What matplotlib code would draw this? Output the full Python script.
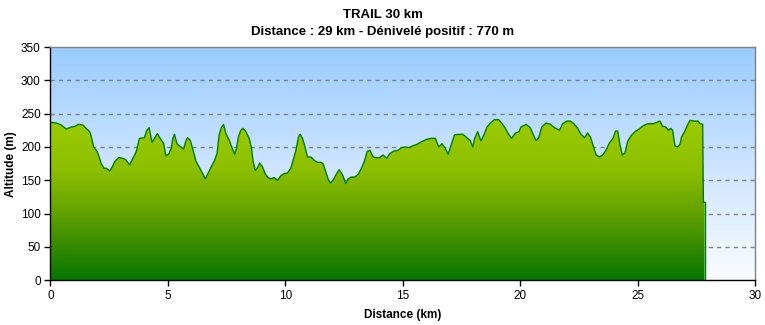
import numpy as np
import matplotlib
matplotlib.use("Agg")
import matplotlib.pyplot as plt
from matplotlib.colors import LinearSegmentedColormap
from matplotlib.patches import Polygon
from matplotlib import font_manager

names = {f.name for f in font_manager.fontManager.ttflist}
fam = "Liberation Sans Narrow" if "Liberation Sans Narrow" in names else "Liberation Sans"
plt.rcParams["font.family"] = [fam, "DejaVu Sans"]

title = "TRAIL 30 km"
subtitle = "Distance : 29 km - Dénivelé positif : 770 m"
xlabel = "Distance (km)"
ylabel = "Altitude (m)"
xticks = [0, 5, 10, 15, 20, 25, 30]
yticks = [0, 50, 100, 150, 200, 250, 300, 350]

distance = [0, 0.25, 0.46, 0.67, 0.89, 1.03, 1.2, 1.38, 1.52, 1.67, 1.74, 1.84, 1.99, 2.09,
            2.16, 2.28, 2.38, 2.52, 2.63, 2.73, 2.9, 3.09, 3.23, 3.37, 3.51, 3.65, 3.79, 4.0,
            4.1, 4.2, 4.32, 4.43, 4.55, 4.67, 4.82, 4.91, 5.03, 5.14, 5.21, 5.28, 5.38, 5.52,
            5.67, 5.77, 5.84, 5.95, 6.05, 6.19, 6.33, 6.48, 6.59, 6.7, 6.84, 6.99, 7.09, 7.18,
            7.27, 7.37, 7.47, 7.61, 7.72, 7.84, 7.92, 8.0, 8.1, 8.2, 8.32, 8.46, 8.56, 8.63,
            8.72, 8.8, 8.91, 9.03, 9.14, 9.26, 9.38, 9.52, 9.67, 9.81, 9.95, 10.09, 10.23,
            10.33, 10.45, 10.56, 10.63, 10.73, 10.84, 10.94, 11.09, 11.23, 11.37, 11.51, 11.61,
            11.72, 11.84, 11.92, 12.03, 12.15, 12.29, 12.44, 12.57, 12.67, 12.82, 12.96, 13.1,
            13.24, 13.38, 13.48, 13.6, 13.74, 13.88, 14.02, 14.16, 14.31, 14.45, 14.62, 14.8,
            14.94, 15.13, 15.27, 15.44, 15.61, 15.8, 15.98, 16.2, 16.39, 16.53, 16.67, 16.81,
            16.93, 17.06, 17.2, 17.38, 17.56, 17.73, 17.88, 17.98, 18.06, 18.19, 18.33, 18.45,
            18.59, 18.73, 18.9, 19.09, 19.23, 19.37, 19.51, 19.63, 19.8, 19.95, 20.03, 20.25,
            20.43, 20.56, 20.67, 20.78, 20.92, 21.1, 21.29, 21.46, 21.67, 21.81, 21.99, 22.14,
            22.28, 22.45, 22.59, 22.74, 22.87, 22.99, 23.1, 23.23, 23.37, 23.51, 23.65, 23.8,
            23.95, 24.06, 24.15, 24.25, 24.35, 24.46, 24.57, 24.72, 24.89, 25.06, 25.24, 25.43,
            25.67, 25.81, 25.95, 26.06, 26.2, 26.31, 26.42, 26.49, 26.59, 26.7, 26.8, 26.87,
            27.01, 27.12, 27.23, 27.41, 27.57, 27.66, 27.77, 27.8, 27.85]
altitude = [237, 236, 233, 227, 230, 231, 234, 233, 228, 223, 215, 200, 193, 183,
            175, 168, 168, 164, 170, 178, 184, 183, 180, 173, 183, 193, 213, 214,
            225, 229, 207, 213, 220, 213, 205, 187, 189, 198, 213, 219, 205, 201,
            197, 210, 214, 210, 198, 179, 170, 160, 152, 160, 170, 180, 190, 218,
            229, 234, 220, 210, 200, 189, 198, 215, 225, 228, 223, 213, 198, 178,
            165, 168, 176, 170, 160, 154, 152, 154, 150, 157, 160, 161, 168,
            180, 195, 215, 219, 213, 200, 185, 185, 180, 177, 177, 175,
            163, 150, 146, 150, 158, 166, 158, 145, 152, 155, 155, 159,
            168, 180, 193, 195, 185, 184, 184, 188, 183, 190, 194, 195,
            199, 200, 199, 202, 204, 208, 211, 213, 213, 200, 205, 198,
            189, 203, 218, 219, 219, 214, 209, 200, 213, 223, 209, 218,
            230, 236, 241, 241, 235, 228, 219, 213, 221, 223, 230, 234,
            229, 218, 210, 213, 230, 236, 234, 229, 225, 235, 239, 239,
            235, 228, 219, 214, 221, 215, 203, 188, 185, 188, 195, 206,
            213, 224, 224, 203, 188, 191, 208, 217, 223, 227, 232, 235,
            235, 237, 239, 231, 230, 225, 228, 225, 202, 200, 204, 215,
            224, 233, 240, 239, 239, 235, 234, 117, 117]

d = np.array(distance, dtype=float)
a = np.array(altitude, dtype=float)

fig = plt.figure(figsize=(7.65, 3.25), dpi=100)
ax = fig.add_axes([0.066, 0.138, 0.921, 0.717])
ax.set_xlim(0, 30)
ax.set_ylim(0, 350)

# sky gradient
sky = LinearSegmentedColormap.from_list("sky", ["#FAFCFF", "#CCE4FF", "#99CCFF"])
grad = np.linspace(0, 1, 256).reshape(-1, 1)
ax.imshow(grad, cmap=sky, origin="lower", aspect="auto", extent=[0, 30, 0, 350],
          zorder=0, interpolation="bilinear")

for yv in [50, 100, 150, 200, 250, 300]:
    ax.axhline(yv, color="#808080", lw=1.0, ls=(0, (3, 3)), zorder=1)

# green gradient fill clipped to profile
green = LinearSegmentedColormap.from_list(
    "grn", [(0.0, "#047600"), (0.22, "#3A8C00"), (0.45, "#6AA600"),
            (0.68, "#8CC000"), (1.0, "#9CCC00")])
img = ax.imshow(np.linspace(0, 1, 256).reshape(-1, 1), cmap=green, origin="lower",
                aspect="auto", extent=[0, 30, 0, 245], zorder=2, interpolation="bilinear")
verts = np.vstack([[d[0], 0], np.column_stack([d, a]), [d[-1], 0]])
poly = Polygon(verts, closed=True, facecolor="none", edgecolor="none", transform=ax.transData)
ax.add_patch(poly)
img.set_clip_path(poly)
ax.plot(d, a, color="#008000", lw=1.0, zorder=3)
ax.plot([d[-1], d[-1]], [a[-1], 0], color="#008000", lw=1.0, zorder=3)

ax.set_xticks(xticks)
ax.set_yticks(yticks)
ax.tick_params(axis="both", direction="out", length=4, width=1, labelsize=8.5, colors="black", pad=3)
for s in ["top", "right"]:
    ax.spines[s].set_color("#808080")
for s in ["left", "bottom"]:
    ax.spines[s].set_color("black")
for s in ax.spines.values():
    s.set_linewidth(1.0)
    s.set_zorder(5)

ax.set_xlabel(xlabel, fontsize=8.5, fontweight="bold", labelpad=5)
ax.set_ylabel(ylabel, fontsize=8.5, fontweight="bold", labelpad=3)
fig.text(0.5, 0.955, title, ha="center", va="center", fontsize=9.5, fontweight="bold")
fig.text(0.5, 0.900, subtitle, ha="center", va="center", fontsize=9.5, fontweight="bold")

fig.savefig("out.png", dpi=100)
